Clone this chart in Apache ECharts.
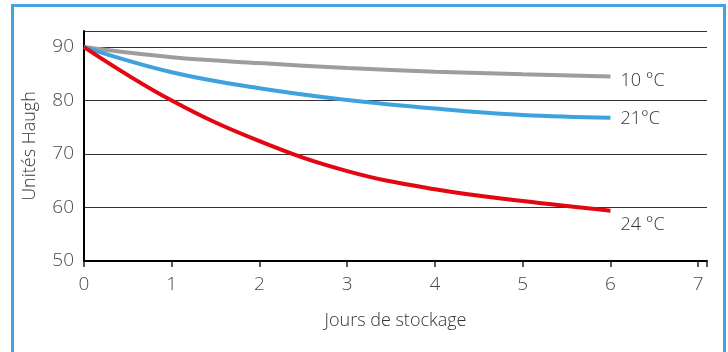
<!DOCTYPE html>
<html><head><meta charset="utf-8">
<script src="https://cdn.jsdelivr.net/npm/echarts@6/dist/echarts.min.js"></script>
<style>html,body{margin:0;padding:0;background:#fff}#c{width:728px;height:352px}</style>
</head><body><div id="c"></div>
<script>
const days = [0, 1, 2, 3, 4, 5, 6];
const t10 = [90, 88.1, 87.0, 86.1, 85.4, 84.9, 84.5];
const t21 = [90, 85.3, 82.3, 80.1, 78.5, 77.3, 76.8];
const t24 = [90, 80.0, 72.4, 66.8, 63.4, 61.2, 59.4];
const names = ['10 °C', '21°C', '24 °C'];
const xTicks = [0, 1, 2, 3, 4, 5, 6, 7];
const yTicks = [50, 60, 70, 80, 90];

const font = 'Open Sans, Noto Sans, sans-serif';
const chart = echarts.init(document.getElementById('c'));
function mk(arr, name, color, off) {
  return {
    type: 'line', name: name, smooth: 0.4, showSymbol: false, silent: true,
    data: days.map((d, i) => [d, arr[i]]),
    lineStyle: { color: color, width: 4 },
    endLabel: { show: true, formatter: name, color: '#333', fontFamily: font, fontSize: 18, fontWeight: 300, offset: off, distance: 10 }
  };
}
chart.setOption({
  animation: false,
  graphic: [{ type: 'rect', shape: { x: 12.5, y: 5.5, width: 712, height: 380 }, style: { fill: 'none', stroke: '#45a4df', lineWidth: 3 } }],
  grid: { left: 84, right: 21, top: 31, bottom: 91 },
  xAxis: {
    type: 'value', min: 0, max: 7.1, interval: 1,
    name: 'Jours de stockage', nameLocation: 'middle', nameGap: 51,
    nameTextStyle: { color: '#333', fontFamily: font, fontSize: 18, fontWeight: 300 },
    axisLine: { lineStyle: { color: '#000', width: 2 } },
    axisTick: { show: true, length: 6, lineStyle: { color: '#222', width: 1.5 } },
    axisLabel: { color: '#4a4a4a', fontFamily: font, fontSize: 19, fontWeight: 300, margin: 14,
      customValues: xTicks, showMaxLabel: true, formatter: v => String(v) },
    splitLine: { show: false }
  },
  yAxis: {
    type: 'value', min: 50, max: 93, interval: 10,
    name: 'Unités Haugh', nameLocation: 'middle', nameGap: 45, nameRotate: 90,
    nameTextStyle: { color: '#333', fontFamily: font, fontSize: 18, fontWeight: 300 },
    axisLine: { show: true, lineStyle: { color: '#000', width: 2 } },
    axisTick: { show: false },
    axisLabel: { color: '#4a4a4a', fontFamily: font, fontSize: 19, fontWeight: 300, margin: 10, customValues: yTicks },
    splitLine: { show: true, lineStyle: { color: '#333', width: 1.2 } }
  },
  series: [
    mk(t10, names[0], '#9d9d9d', [0, 4]),
    mk(t21, names[1], '#3ea3dd', [0, 1]),
    mk(t24, names[2], '#e30613', [0, 14])
  ]
});
</script></body></html>
